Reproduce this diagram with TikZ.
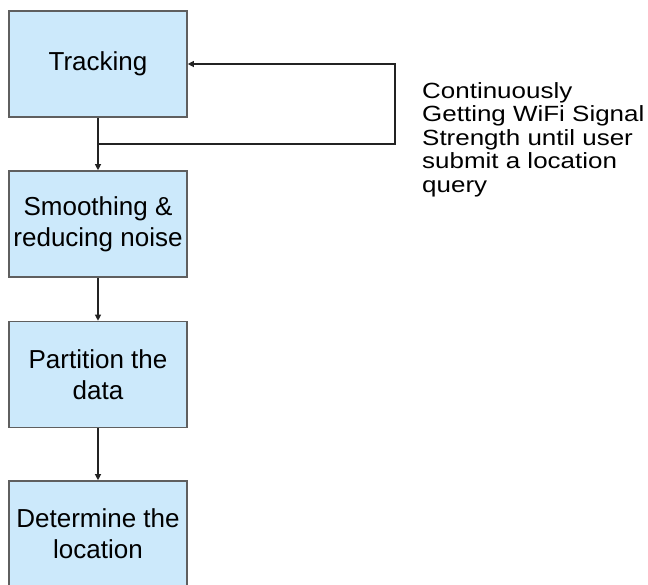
\documentclass[tikz,border=0pt]{standalone}
\usepackage{fontspec}
\setmainfont{Liberation Sans}
\newfontfamily\notefont{Liberation Sans}[FakeStretch=1.18]
\usepackage{tikz}
\usetikzlibrary{arrows.meta}
\definecolor{boxfill}{RGB}{204,233,251}
\definecolor{boxline}{RGB}{95,95,95}
\definecolor{arrowline}{RGB}{35,35,35}

\begin{document}
\begin{tikzpicture}[x=1pt, y=-1pt,
    stage/.style={draw=boxline, line width=1.6pt, fill=boxfill,
      minimum width=178pt, minimum height=106pt, inner sep=0pt,
      align=center, font=\fontsize{26}{31}\selectfont},
    flow/.style={draw=arrowline, line width=1.1pt},
    tip/.style={-{Triangle[length=6pt,width=6pt]}},
    note/.style={inner sep=0pt, align=left, font=\notefont\fontsize{22}{23.5}\selectfont}]
    \useasboundingbox (0,0) rectangle (648,584);
    \clip (0,0) rectangle (648,584);
    \pgfmathsetmacro{\xc}{98}
    \pgfmathsetmacro{\xr}{395}
    \pgfmathsetmacro{\yj}{144}
    % the four stages
    \node[stage] (track) at (\xc, 64) {Tracking};
    \node[stage] (smooth) at (\xc, 224) {Smoothing \&\\reducing noise};
    \node[stage] (part) at (\xc, 374.5) {Partition the\\data};
    \node[stage] (locate) at (\xc, 534) {Determine the\\location};
    \node[note, anchor=north west] (note) at (422, 82) {Continuously\\Getting WiFi Signal\\Strength until user\\submit a location\\query};
    % feedback loop
    \coordinate (join) at (\xc, \yj);
    \coordinate (backlow) at (\xr, \yj);
    \coordinate (backtop) at (\xr, 64);
    \draw[flow] (track.south) -- (join);
    \draw[flow, tip] (join) -- (smooth.north);
    \draw[flow, tip] (join) -- (backlow) -- (backtop) -- (track.east);
    \draw[flow, tip] (smooth) -- (part);
    \draw[flow, tip] (part) -- (locate);
\end{tikzpicture}
\end{document}
